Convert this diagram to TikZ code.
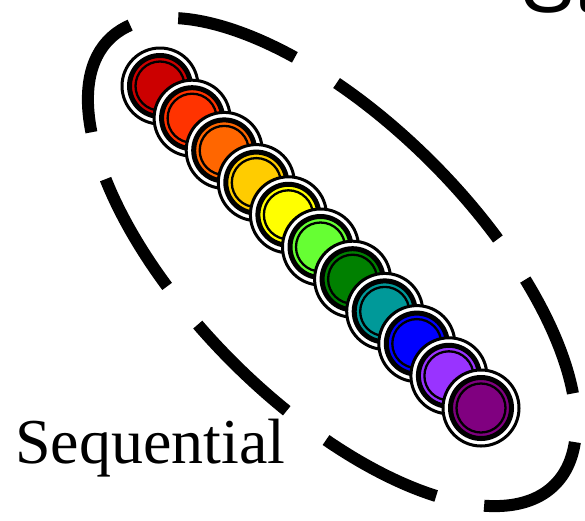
\documentclass[tikz,border=0pt]{standalone}
\usepackage{fontspec}
\usepackage{tikz}
\usetikzlibrary{positioning}
\usepackage{xcolor}
\newfontfamily\seqfont{Liberation Serif}
\newfontfamily\headfont{Liberation Sans}
\definecolor{c1}{HTML}{CC0000}
\definecolor{c2}{HTML}{FF3300}
\definecolor{c3}{HTML}{FF6600}
\definecolor{c4}{HTML}{FFCC00}
\definecolor{c5}{HTML}{FFFF00}
\definecolor{c6}{HTML}{66FF33}
\definecolor{c7}{HTML}{008000}
\definecolor{c8}{HTML}{009999}
\definecolor{c9}{HTML}{0000FF}
\definecolor{c10}{HTML}{9933FF}
\definecolor{c11}{HTML}{800080}

\begin{document}
\begin{tikzpicture}[x=1pt,y=1pt]
  \tikzstyle{RingStyle}=[circle, draw=black, fill=white, line width=3pt, minimum size=76pt, inner sep=0pt]
  \tikzstyle{DiscStyle}=[circle, draw=black, line width=5pt, minimum size=61pt, inner sep=0pt]
  \tikzstyle{CoreStyle}=[circle, draw=black, line width=2.3pt, minimum size=49pt, inner sep=0pt]
  \tikzstyle{GroupStyle}=[line width=12pt, dash pattern=on 124pt off 49pt]
  \useasboundingbox (0,0) rectangle (585,-520);

  \coordinate (mid) at (332,-262);
  \draw[GroupStyle, rotate around={45:(mid)}] (mid) ellipse [x radius=141, y radius=315];

  \foreach \col [count=\i] in {c1,c2,c3,c4,c5,c6,c7,c8,c9,c10,c11} {
    \node[RingStyle] (ring\i) at ({160+32.1*(\i-1)},{-86-32.2*(\i-1)}) {};
    \node[DiscStyle, fill=\col] (disc\i) at (ring\i) {};
    \node[CoreStyle] (core\i) at (disc\i) {};
  }

  \node[anchor=base west, inner sep=0pt, font=\seqfont\fontsize{64}{77}\selectfont] (seq) at (15,-463) {Sequential};
  \node[anchor=base west, inner sep=0pt, font=\headfont\fontsize{80}{96}\selectfont] (head) at (521,-12) {St};
\end{tikzpicture}
\end{document}
